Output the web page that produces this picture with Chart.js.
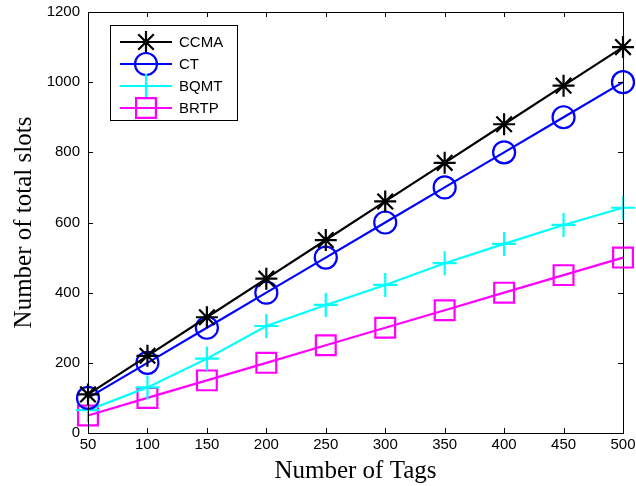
<!DOCTYPE html>
<html>
<head>
<meta charset="utf-8">
<script src="https://cdn.jsdelivr.net/npm/chart.js@4/dist/chart.umd.min.js"></script>
<style>
html,body{margin:0;padding:0;background:#fff;}
#wrap{width:636px;height:486px;position:relative;}
</style>
</head>
<body>
<div id="wrap"><canvas id="c" width="636" height="486"></canvas></div>
<script>
const tags = [50, 100, 150, 200, 250, 300, 350, 400, 450, 500];
const ccma = [110, 220, 330, 440, 550, 660, 770, 880, 990, 1100];
const ct   = [100, 200, 300, 400, 500, 600, 700, 800, 900, 1000];
const bqmt = [65, 130, 212, 305, 365, 422, 484, 539, 593, 642];
const brtp = [50, 100, 150, 200, 250, 300, 350, 400, 450, 500];
const seriesNames = ['CCMA', 'CT', 'BQMT', 'BRTP'];
const xTicks = [50, 100, 150, 200, 250, 300, 350, 400, 450, 500];
const yTicks = [0, 200, 400, 600, 800, 1000, 1200];

const styles = [
  {color:'#000000', pointStyle:'star', radius:11},
  {color:'#0000ff', pointStyle:'circle', radius:11},
  {color:'#00ffff', pointStyle:'cross', radius:12},
  {color:'#ff00ff', pointStyle:'rect', radius:14}
];
const allData = [ccma, ct, bqmt, brtp];

const datasets = allData.map((vals, i) => ({
  label: seriesNames[i],
  data: tags.map((t, j) => ({x: t, y: vals[j]})),
  borderColor: styles[i].color,
  borderWidth: 2.2,
  pointStyle: styles[i].pointStyle,
  pointRadius: styles[i].radius,
  pointBorderColor: styles[i].color,
  pointBackgroundColor: 'rgba(0,0,0,0)',
  pointBorderWidth: 2.2,
  fill: false,
  clip: false,
  tension: 0
}));

const boxPlugin = {
  id: 'boxPlugin',
  afterDraw(chart) {
    const ctx = chart.ctx;
    const a = chart.chartArea;
    const xs = chart.scales.x, ys = chart.scales.y;
    ctx.save();
    ctx.strokeStyle = '#000';
    ctx.lineWidth = 1;
    ctx.strokeRect(a.left + 0.5, a.top + 0.5, a.right - a.left, a.bottom - a.top);
    const tl = 5;
    ctx.beginPath();
    xTicks.forEach(v => {
      const px = Math.round(xs.getPixelForValue(v)) + 0.5;
      ctx.moveTo(px, a.bottom); ctx.lineTo(px, a.bottom - tl);
      ctx.moveTo(px, a.top); ctx.lineTo(px, a.top + tl);
    });
    yTicks.forEach(v => {
      const py = Math.round(ys.getPixelForValue(v)) + 0.5;
      ctx.moveTo(a.left, py); ctx.lineTo(a.left + tl, py);
      ctx.moveTo(a.right, py); ctx.lineTo(a.right - tl, py);
    });
    ctx.stroke();

    // legend
    const lx = 110, ly = 25, lw = 127, lh = 95;
    ctx.fillStyle = '#fff';
    ctx.fillRect(lx, ly, lw, lh);
    ctx.strokeRect(lx + 0.5, ly + 0.5, lw, lh);
    const rowY = [42, 64, 86, 108];
    ctx.font = '15px "Liberation Sans", Arial, sans-serif';
    ctx.textBaseline = 'middle';
    chart.data.datasets.forEach((ds, i) => {
      const y = rowY[i];
      ctx.strokeStyle = ds.borderColor;
      ctx.lineWidth = 2.2;
      ctx.beginPath();
      ctx.moveTo(120, y); ctx.lineTo(172, y);
      ctx.stroke();
      ctx.fillStyle = 'rgba(0,0,0,0)';
      Chart.helpers.drawPoint(ctx, {pointStyle: ds.pointStyle, radius: ds.pointRadius, rotation: 0, borderWidth: 2.2}, 146, y);
      ctx.fillStyle = '#000';
      ctx.fillText(ds.label, 179, y + 1);
    });
    ctx.restore();
  }
};

new Chart(document.getElementById('c'), {
  type: 'line',
  data: {datasets},
  options: {
    responsive: false,
    animation: false,
    devicePixelRatio: 1,
    layout: {autoPadding: false, padding: {top: 12, right: 13, left: 0, bottom: 0}},
    plugins: {legend: {display: false}, tooltip: {enabled: false}},
    scales: {
      x: {
        type: 'linear', min: 50, max: 500,
        afterBuildTicks: s => { s.ticks = xTicks.map(v => ({value: v})); },
        afterFit: s => { s.height = 53; s.paddingLeft = 0; s.paddingRight = 0; },
        grid: {display: false, drawTicks: false},
        border: {display: false},
        ticks: {color: '#000', padding: 3, maxRotation: 0, callback: v => String(v), font: {family: '"Liberation Sans", Arial, sans-serif', size: 15}},
        title: {display: true, text: 'Number of Tags', color: '#000', padding: {top: 0, bottom: 0}, font: {family: '"Liberation Serif", "Times New Roman", serif', size: 25}}
      },
      y: {
        type: 'linear', min: 0, max: 1200,
        afterBuildTicks: s => { s.ticks = yTicks.map(v => ({value: v})); },
        afterFit: s => { s.width = 88; s.paddingTop = 0; s.paddingBottom = 0; },
        grid: {display: false, drawTicks: false},
        border: {display: false},
        ticks: {color: '#000', padding: 8, callback: v => String(v), font: {family: '"Liberation Sans", Arial, sans-serif', size: 15}},
        title: {display: true, text: 'Number of total slots', color: '#000', padding: {top: 9, bottom: 0}, font: {family: '"Liberation Serif", "Times New Roman", serif', size: 25}}
      }
    }
  },
  plugins: [boxPlugin]
});
</script>
</body>
</html>
